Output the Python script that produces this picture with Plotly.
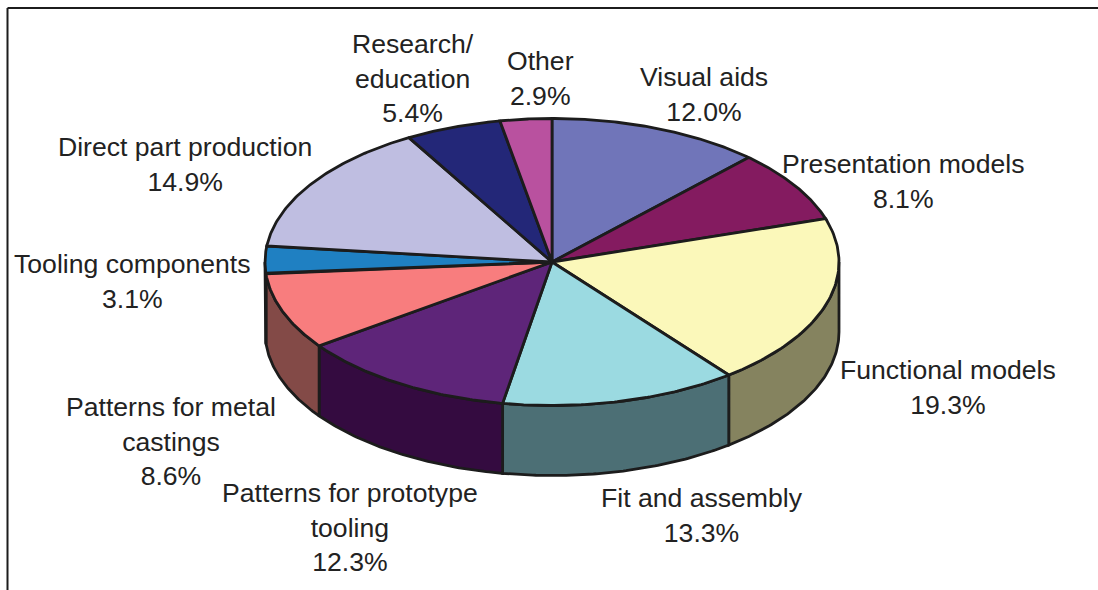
import numpy as np
import plotly.graph_objects as go

# Slices, clockwise from 12 o'clock
LABELS = ["Visual aids", "Presentation models", "Functional models", "Fit and assembly",
          "Patterns for prototype<br>tooling", "Patterns for metal<br>castings", "Tooling components",
          "Direct part production", "Research/<br>education", "Other"]
VALUES = [12.0, 8.1, 19.3, 13.3, 12.3, 8.6, 3.1, 14.9, 5.4, 2.9]
TOP_COLORS = ["#7075B9", "#841B60", "#FBF8BA", "#9BDAE1", "#5E2579",
              "#F87D7E", "#1F80C2", "#BFBEE1", "#232778", "#B9519F"]
SIDE_COLORS = ["#3A3D60", "#450E32", "#85835F", "#4C6F75", "#340B40",
               "#834A47", "#103F60", "#64636F", "#12143E", "#602A53"]

# Label placement in picture pixels
LABEL_X = [704, 903, 948, 702, 350, 171, 132, 185, 413, 540]
LABEL_Y = [94, 181, 387, 515, 527, 441, 281, 164, 78, 78]

WIDTH, HEIGHT = 1098, 590
CX, CY = 552, 262
RX, RY = 287, 143.5
DEPTH = 70
OUTLINE = "#1c1c1c"


def rim(angles, drop=0):
    """Points on the tilted disc edge, angles in degrees clockwise from the top."""
    rad = np.radians(angles)
    return CX + RX * np.sin(rad), CY - RY * np.cos(rad) + drop


def add_poly(fig, x, y, color, name, width=2.8):
    fig.add_trace(go.Scatter(x=x, y=y, mode="lines", fill="toself", fillcolor=color,
                             line=dict(color=OUTLINE, width=width), name=name,
                             hoverinfo="name", showlegend=False))


fig = go.Figure()
edges = np.cumsum([0] + VALUES) / sum(VALUES) * 360

# Walls first so the top face sits over them; only the front half shows
for i, label in enumerate(LABELS):
    start, end = max(edges[i], 90), min(edges[i + 1], 270)
    if start >= end:
        continue
    arc = np.linspace(start, end, 80)
    x, y = rim(arc)
    x2, y2 = rim(arc[::-1], DEPTH)
    add_poly(fig, np.r_[x, x2, x[0]], np.r_[y, y2, y[0]], SIDE_COLORS[i], label.replace("<br>", " "))

for i, label in enumerate(LABELS):
    arc = np.linspace(edges[i], edges[i + 1], 80)
    x, y = rim(arc)
    add_poly(fig, np.r_[CX, x, CX], np.r_[CY, y, CY], TOP_COLORS[i], label.replace("<br>", " "))

for label, value, lx, ly in zip(LABELS, VALUES, LABEL_X, LABEL_Y):
    fig.add_annotation(x=lx, y=ly, text=f"{label}<br>{value:.1f}%", showarrow=False,
                       xanchor="center", yanchor="middle", align="center",
                       font=dict(family="Liberation Sans, Arial, sans-serif", size=26.6, color="#222222"))

# Frame: only left and top edges are in the picture
fig.add_shape(type="line", x0=7.5, x1=7.5, y0=8, y1=HEIGHT, line=dict(color=OUTLINE, width=2))
fig.add_shape(type="line", x0=7.5, x1=WIDTH, y0=8, y1=8, line=dict(color=OUTLINE, width=2))

fig.update_layout(
    width=WIDTH, height=HEIGHT,
    margin=dict(l=0, r=0, t=0, b=0),
    paper_bgcolor="white", plot_bgcolor="white",
    xaxis=dict(range=[0, WIDTH], visible=False, fixedrange=True),
    yaxis=dict(range=[HEIGHT, 0], visible=False, fixedrange=True),
    showlegend=False,
)

# Page body has a default margin that would shift the whole figure
fig.write_html("out.html", config={"displayModeBar": False},
               post_script="document.body.style.margin = '0';")
